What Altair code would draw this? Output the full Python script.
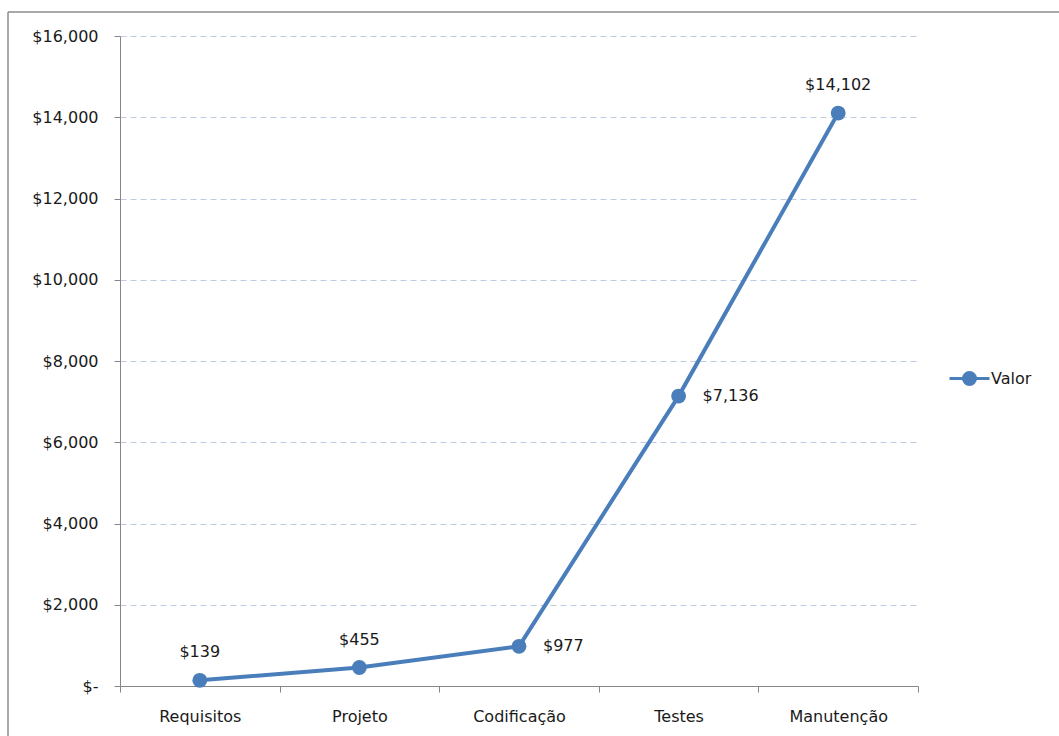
import altair as alt
import pandas as pd

categories = ["Requisitos", "Projeto", "Codificação", "Testes", "Manutenção"]
values = [139, 455, 977, 7136, 14102]
series_name = "Valor"
labels_above = ["Requisitos", "Projeto", "Manutenção"]
labels_right = ["Codificação", "Testes"]

df = pd.DataFrame({"Etapa": categories, "Valor": values, "Serie": series_name})
df["label"] = df["Valor"].map(lambda v: "$" + format(v, ","))

FONT = "DejaVu Sans"
FS = 16
BLUE = "#4a7ebb"
TXT = "#1a1a1a"

x = alt.X("Etapa:N", sort=categories, title=None,
          scale=alt.Scale(paddingInner=0, paddingOuter=0),
          axis=alt.Axis(labelAngle=0, tickBand="extent", domainColor="#868686",
                        tickColor="#868686", tickSize=6, labelPadding=16, grid=False,
                        labelFontSize=FS, labelFont=FONT, labelColor=TXT))
y = alt.Y("Valor:Q", title=None,
          scale=alt.Scale(domain=[0, 16000], nice=False),
          axis=alt.Axis(values=list(range(0, 16001, 2000)),
                        labelExpr="datum.value == 0 ? '$-' : '$' + format(datum.value, ',')",
                        domainColor="#868686", tickColor="#868686", tickSize=6,
                        labelPadding=16, labelFontSize=FS, labelFont=FONT, labelColor=TXT,
                        grid=True, gridColor="#bfcbe0", gridDash=[6, 4], gridWidth=1))

base = alt.Chart(df)

line = base.mark_line(color=BLUE, strokeWidth=4).encode(
    x=x, y=y,
    color=alt.Color("Serie:N", scale=alt.Scale(range=[BLUE]),
                    legend=alt.Legend(title=None, orient="none", legendX=828, legendY=321,
                                      symbolType="M -1 0 L 1 0 M -0.3 0 A 0.3 0.3 0 1 1 0.3 0 A 0.3 0.3 0 1 1 -0.3 0",
                                      symbolSize=1600, symbolStrokeWidth=3,
                                      symbolFillColor=BLUE, symbolStrokeColor=BLUE,
                                      labelFontSize=FS, labelFont=FONT, labelColor=TXT,
                                      labelOffset=0)),
)
points = base.mark_point(filled=True, size=220, color=BLUE, opacity=1).encode(x=x, y=y)

txt_above = base.transform_filter(
    alt.FieldOneOfPredicate(field="Etapa", oneOf=labels_above)
).mark_text(dy=-28, fontSize=FS, font=FONT, color=TXT).encode(x=x, y=y, text="label:N")
txt_right = base.transform_filter(
    alt.FieldOneOfPredicate(field="Etapa", oneOf=labels_right)
).mark_text(dx=24, align="left", fontSize=FS, font=FONT, color=TXT).encode(x=x, y=y, text="label:N")

border_top = alt.Chart(pd.DataFrame({"a": [0]})).mark_rule(color="#8c8c8c", strokeWidth=1.5).encode(
    x=alt.value(-112), x2=alt.value(940), y=alt.value(-24))
border_left = alt.Chart(pd.DataFrame({"a": [0]})).mark_rule(color="#8c8c8c", strokeWidth=1.5).encode(
    x=alt.value(-112), y=alt.value(-24), y2=alt.value(720))

chart = alt.layer(line, points, txt_above, txt_right, border_top, border_left).properties(
    width=798, height=650,
    background="white",
    autosize=alt.AutoSizeParams(type="none"),
    padding={"left": 120, "top": 36, "right": 141, "bottom": 50},
).configure_view(stroke=None, strokeWidth=0)

chart.save("out.html", embed_options={"renderer": "svg", "actions": False})
